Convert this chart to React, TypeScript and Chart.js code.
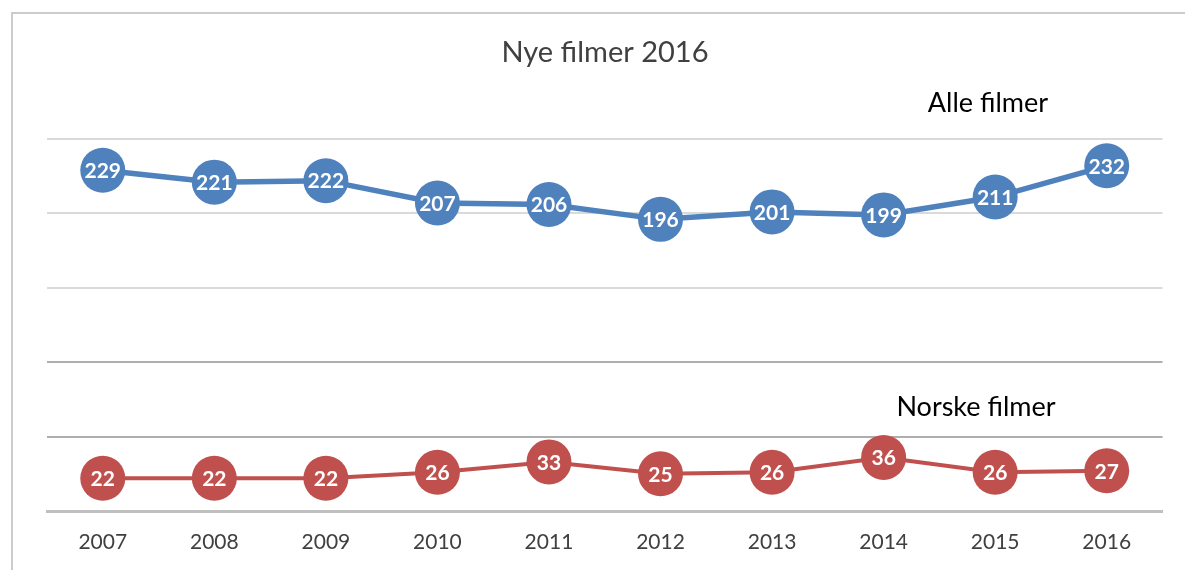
import React, { useEffect, useRef } from "react";
import { Chart, registerables } from "chart.js";

Chart.register(...registerables);

const years = ["2007", "2008", "2009", "2010", "2011", "2012", "2013", "2014", "2015", "2016"];
const alleFilmer = [229, 221, 222, 207, 206, 196, 201, 199, 211, 232];
const norskeFilmer = [22, 22, 22, 26, 33, 25, 26, 36, 26, 27];
const yTicks = [0, 50, 100, 150, 200, 250];

const FONT = "Lato, 'Open Sans', sans-serif";

const labelPlugin = {
  id: "labelsAndText",
  afterDatasetsDraw(chart: any) {
    const ctx = chart.ctx;
    ctx.save();
    ctx.fillStyle = "#ffffff";
    ctx.font = `bold 21px ${FONT}`;
    ctx.textAlign = "center";
    ctx.textBaseline = "middle";
    chart.data.datasets.forEach((ds: any, i: number) => {
      const meta = chart.getDatasetMeta(i);
      meta.data.forEach((pt: any, j: number) => {
        ctx.fillText(String(ds.data[j]), pt.x, pt.y + 1);
      });
    });
    ctx.fillStyle = "#404040";
    ctx.font = `29px ${FONT}`;
    ctx.fillText("Nye filmer 2016", 605, 53);
    ctx.fillStyle = "#000000";
    ctx.font = `27px ${FONT}`;
    ctx.fillText("Alle filmer", 988, 103);
    ctx.fillText("Norske filmer", 976, 407);
    ctx.restore();
  },
};

export default function App() {
  const ref = useRef<HTMLCanvasElement>(null);
  useEffect(() => {
    if (!ref.current) return;
    const chart = new Chart(ref.current, {
      type: "line",
      data: {
        labels: years,
        datasets: [
          {
            label: "Alle filmer",
            data: alleFilmer,
            borderColor: "#4f81bd",
            backgroundColor: "#4f81bd",
            borderWidth: 5.5,
            pointRadius: 22.5,
            pointHoverRadius: 22.5,
            pointBorderWidth: 0,
            pointBackgroundColor: "#4f81bd",
            tension: 0,
          },
          {
            label: "Norske filmer",
            data: norskeFilmer,
            borderColor: "#c0504d",
            backgroundColor: "#c0504d",
            borderWidth: 4,
            pointRadius: 22.5,
            pointHoverRadius: 22.5,
            pointBorderWidth: 0,
            pointBackgroundColor: "#c0504d",
            tension: 0,
          },
        ],
      },
      options: {
        animation: false,
        responsive: false,
        maintainAspectRatio: false,
        layout: { padding: { left: 47, right: 22, top: 139, bottom: 0 } },
        plugins: {
          legend: { display: false },
          title: { display: false },
          tooltip: { enabled: false },
        },
        scales: {
          x: {
            offset: true,
            grid: { display: false, drawTicks: false },
            border: { display: true, color: "#bfbfbf", width: 3 },
            ticks: {
              color: "#404040",
              font: { family: FONT, size: 21 },
              padding: 19,
            },
            afterFit: (scale: any) => {
              scale.height = 59;
            },
          },
          y: {
            min: 0,
            max: 250,
            afterBuildTicks: (scale: any) => {
              scale.ticks = yTicks.map((v) => ({ value: v }));
            },
            ticks: { display: false },
            border: { display: false },
            grid: {
              drawTicks: false,
              lineWidth: 2,
              color: (c: any) => {
                const v = c.tick ? c.tick.value : 0;
                if (v === 0) return "rgba(0,0,0,0)";
                if (v <= 100) return "#aeaeae";
                return "#dadada";
              },
            },
          },
        },
      },
      plugins: [labelPlugin],
    });
    return () => chart.destroy();
  }, []);
  return (
    <div style={{ position: "absolute", left: 0, top: 0, width: 1185, height: 570, overflow: "hidden", background: "#fff" }}>
      <div
        style={{
          position: "absolute",
          left: 11,
          top: 12,
          width: 1300,
          height: 700,
          borderLeft: "2px solid #cccccc",
          borderTop: "2px solid #cccccc",
        }}
      />
      <canvas ref={ref} width={1185} height={570} style={{ position: "absolute", left: 0, top: 0 }} />
    </div>
  );
}
